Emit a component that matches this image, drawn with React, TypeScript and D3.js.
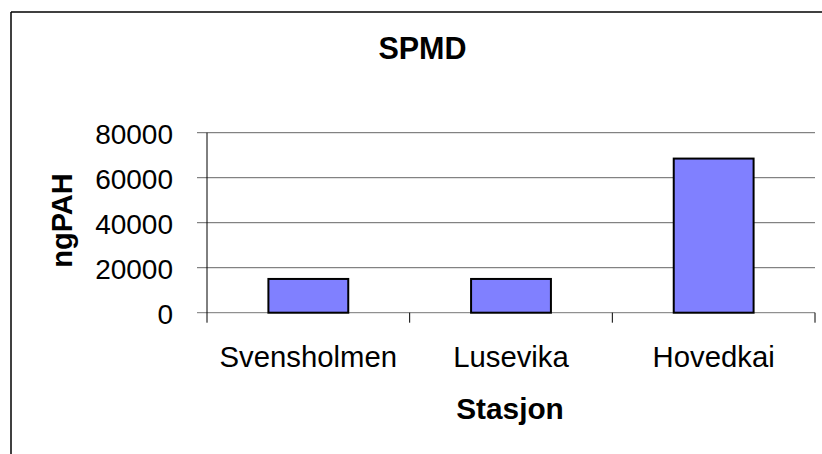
import React from "react";
import * as d3 from "d3";

const categories = ["Svensholmen", "Lusevika", "Hovedkai"];
const values = [15000, 15000, 68500];
const yTicks = [0, 20000, 40000, 60000, 80000];
const title = "SPMD";
const yTitle = "ngPAH";
const xTitle = "Stasjon";

const W = 822;
const H = 454;
const plotLeft = 207;
const plotRight = 815;
const plotTop = 132.7;
const plotBottom = 312.7;
const FONT = "'Liberation Sans', Arial, sans-serif";

export default function App() {
  const x = d3.scaleBand<string>().domain(categories).range([plotLeft, plotRight]).padding(0);
  const y = d3.scaleLinear().domain([0, 80000]).range([plotBottom, plotTop]);
  const barW = x.bandwidth() * 0.394;
  const bandEdges = categories.map((c) => (x(c) as number) + x.bandwidth());

  return (
    <svg
      width={W}
      height={H}
      style={{ position: "absolute", left: 0, top: 0, background: "#fff" }}
      fontFamily={FONT}
    >
      <rect x={0} y={0} width={W} height={H} fill="#fff" />
      {/* outer border */}
      <line x1={11} y1={12} x2={W} y2={12} stroke="#000" strokeWidth={1.5} />
      <line x1={11} y1={12} x2={11} y2={H} stroke="#000" strokeWidth={1.5} />

      <text x={422.5} y={59} textAnchor="middle" fontSize={30.5} fontWeight="bold" fill="#000">
        {title}
      </text>

      {/* gridlines */}
      {yTicks.map((t) => (
        <line
          key={"g" + t}
          x1={197}
          x2={plotRight}
          y1={y(t)}
          y2={y(t)}
          stroke={t === 0 ? "#777" : "#666"}
          strokeWidth={1}
        />
      ))}
      {/* y tick labels */}
      {yTicks.map((t) => (
        <text
          key={"t" + t}
          x={173}
          y={y(t)}
          dy="0.4em"
          textAnchor="end"
          fontSize={28}
          fill="#000"
        >
          {t}
        </text>
      ))}

      {/* bars */}
      {categories.map((c, i) => (
        <rect
          key={c}
          x={(x(c) as number) + x.bandwidth() / 2 - barW / 2}
          y={y(values[i])}
          width={barW}
          height={y(0) - y(values[i])}
          fill="#8080FF"
          stroke="#000"
          strokeWidth={2}
        />
      ))}

      {/* y axis */}
      <line x1={plotLeft} x2={plotLeft} y1={plotTop} y2={plotBottom + 10} stroke="#000" strokeWidth={1} />
      {/* x category ticks */}
      {bandEdges.map((bx, i) => (
        <line key={"xt" + i} x1={bx} x2={bx} y1={plotBottom} y2={plotBottom + 10} stroke="#000" strokeWidth={1} />
      ))}

      {/* category labels */}
      {categories.map((c) => (
        <text
          key={"l" + c}
          x={(x(c) as number) + x.bandwidth() / 2}
          y={367}
          textAnchor="middle"
          fontSize={29.3}
          fill="#000"
        >
          {c}
        </text>
      ))}

      <text x={510} y={419} textAnchor="middle" fontSize={29.8} fontWeight="bold" fill="#000">
        {xTitle}
      </text>
      <text
        transform={`translate(71.5,220.5) rotate(-90)`}
        textAnchor="middle"
        fontSize={29}
        fontWeight="bold"
        fill="#000"
      >
        {yTitle}
      </text>
    </svg>
  );
}
